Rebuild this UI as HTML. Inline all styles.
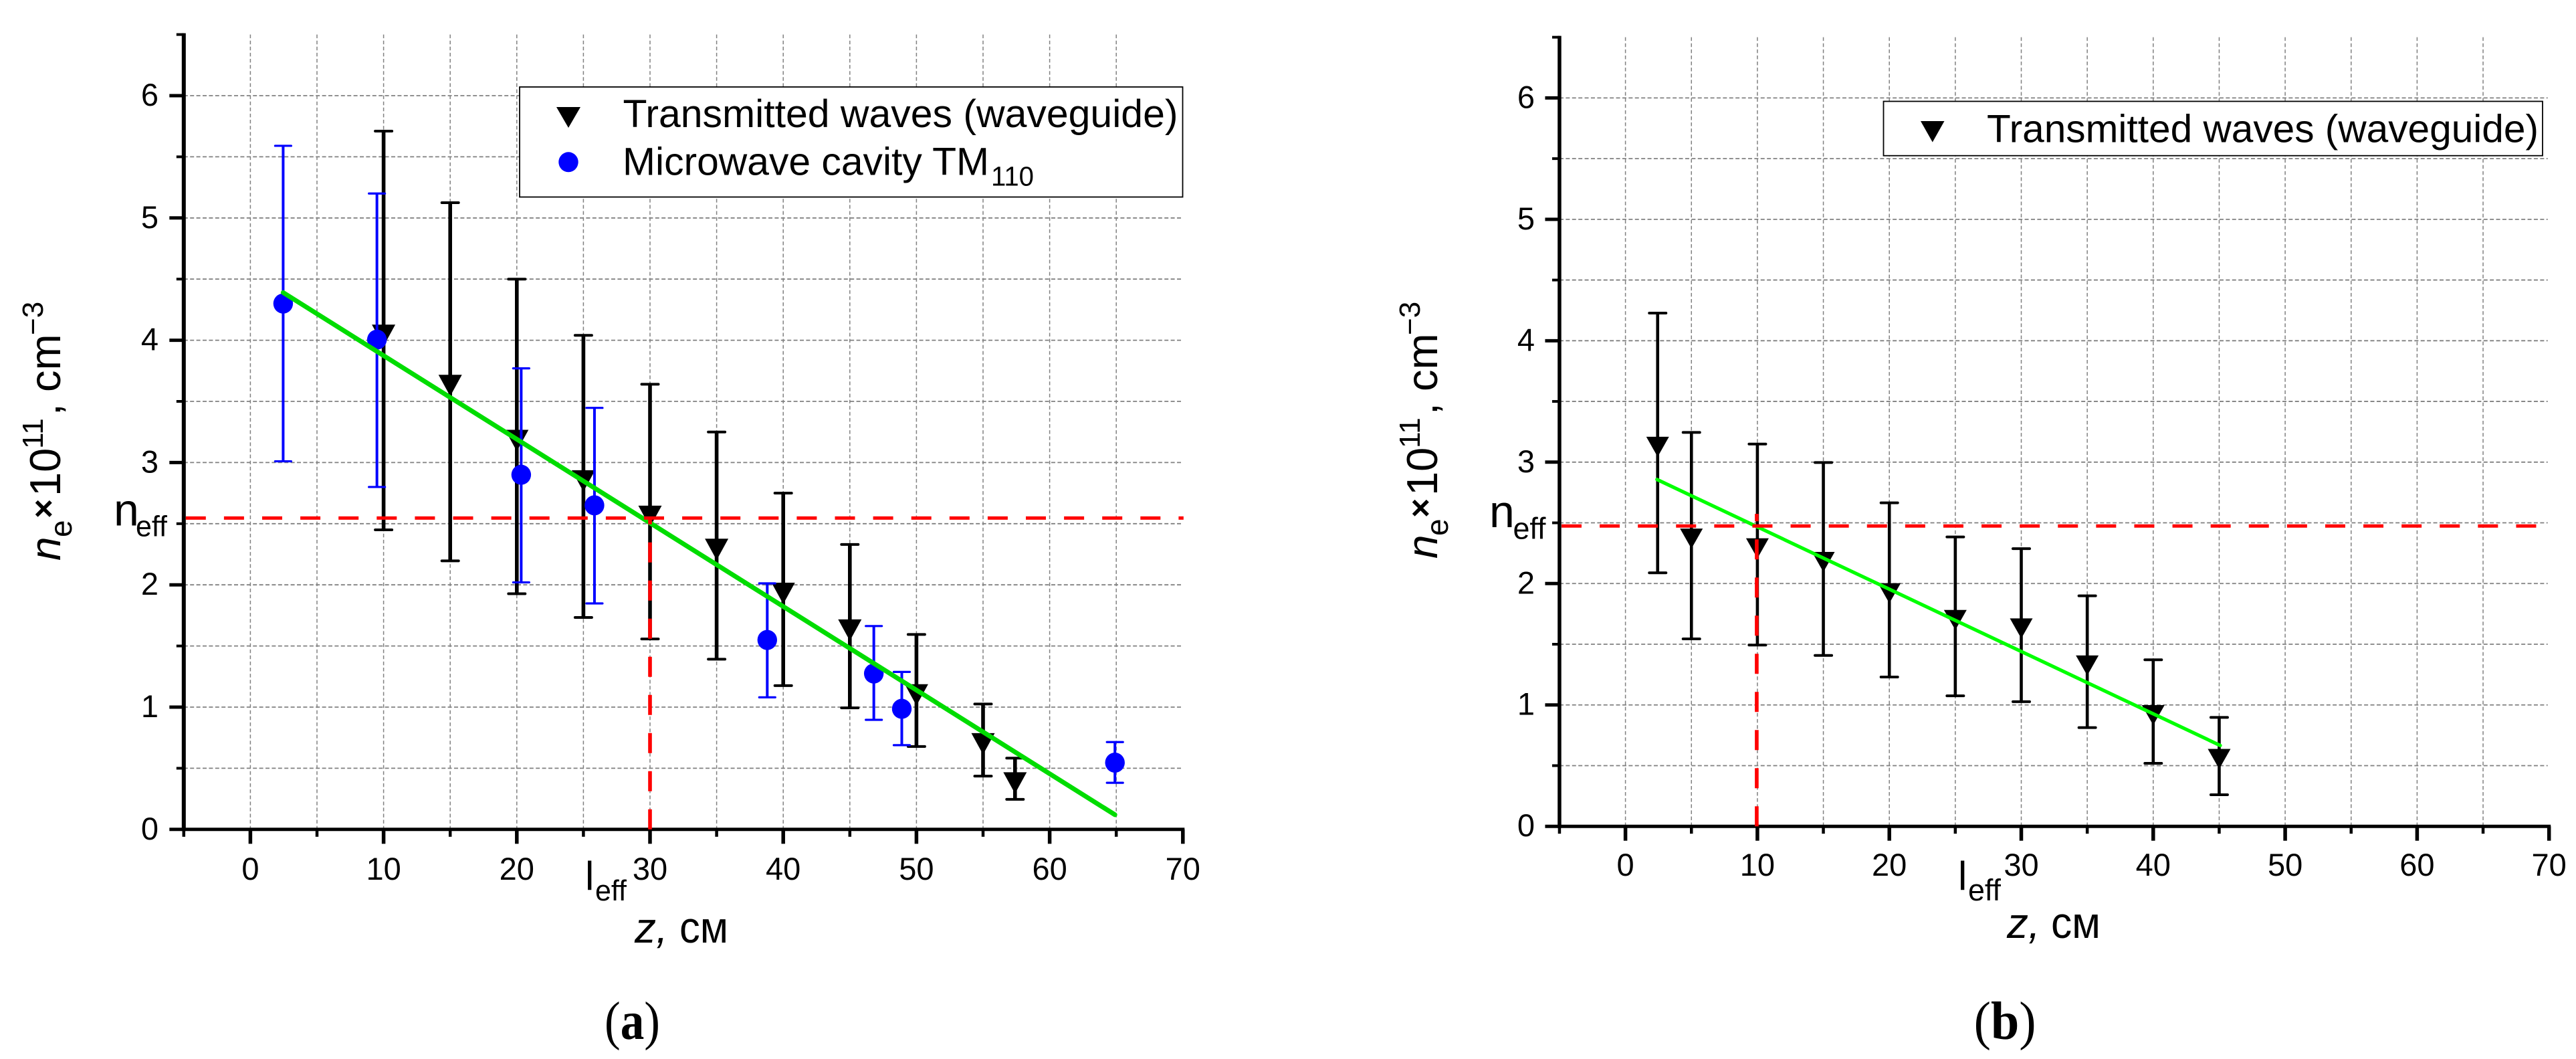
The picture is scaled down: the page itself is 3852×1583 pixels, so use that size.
<!DOCTYPE html>
<html lang="en">
<head>
<meta charset="utf-8">
<title>Electron density along z</title>
<style>
html,body{margin:0;padding:0;background:#fff;width:3852px;height:1583px;overflow:hidden}
svg{display:block}
text{font-family:"Liberation Sans",sans-serif;fill:#000}
.serif{font-family:"Liberation Serif",serif}
</style>
</head>
<body>
<svg id="figure" xmlns="http://www.w3.org/2000/svg" width="3852" height="1583" viewBox="0 0 3852 1583">
  <rect x="0" y="0" width="3852" height="1583" fill="#fff"/>
  <g id="chart-a"></g>
  <g id="chart-b"></g>

  <g id="overlay-a">
    <rect x="777" y="130" width="991.5" height="164.5" fill="#fff" stroke="#000" stroke-width="1.8"/>
    <polygon points="832,160 868,160 850,191" fill="#000"/>
    <ellipse cx="850" cy="242.3" rx="14.7" ry="15" fill="#0000ff"/>
    <text x="931.5" y="190" font-size="58" textLength="830" lengthAdjust="spacingAndGlyphs">Transmitted waves (waveguide)</text>
    <text x="931" y="261.7" font-size="58" textLength="548" lengthAdjust="spacingAndGlyphs">Microwave cavity TM</text>
    <text x="1482" y="277.5" font-size="41" textLength="64" lengthAdjust="spacingAndGlyphs">110</text>

    <text x="170" y="785.7" font-size="68">n</text>
    <text x="203" y="801.5" font-size="44" textLength="47" lengthAdjust="spacingAndGlyphs">eff</text>
    <text x="875" y="1330" font-size="60">l</text>
    <text x="890" y="1345.8" font-size="44" textLength="47" lengthAdjust="spacingAndGlyphs">eff</text>
    <text x="949" y="1408.8" font-size="64" font-style="italic">z,</text>
    <text x="1016" y="1408.8" font-size="66" textLength="73" lengthAdjust="spacingAndGlyphs">см</text>
    <text x="904" y="1553" font-size="80" class="serif" textLength="83" lengthAdjust="spacingAndGlyphs">(<tspan font-weight="bold">a</tspan>)</text>

    <g>
      <text transform="translate(90,838) rotate(-90)" font-size="64" font-style="italic">n</text>
      <text transform="translate(107,803) rotate(-90)" font-size="46">e</text>
      <text transform="translate(82,775) rotate(-90)" font-size="50" font-weight="bold">×</text>
      <text transform="translate(90,742) rotate(-90)" font-size="65">10</text>
      <text transform="translate(64,671) rotate(-90)" font-size="44">11</text>
      <text transform="translate(90,621) rotate(-90)" font-size="64">,</text>
      <text transform="translate(90,586) rotate(-90)" font-size="65">cm</text>
      <text transform="translate(64,501) rotate(-90)" font-size="44">−3</text>
    </g>
  </g>

  <g id="overlay-b">
    <rect x="2816.5" y="151.5" width="985.5" height="81.2" fill="#fff" stroke="#000" stroke-width="1.8"/>
    <polygon points="2872,181 2907.5,181 2889.8,212.5" fill="#000"/>
    <text x="2971" y="212.5" font-size="58" textLength="825" lengthAdjust="spacingAndGlyphs">Transmitted waves (waveguide)</text>

    <text x="2227" y="788" font-size="68">n</text>
    <text x="2262.5" y="805.6" font-size="45" textLength="49" lengthAdjust="spacingAndGlyphs">eff</text>
    <text x="2928" y="1330" font-size="60">l</text>
    <text x="2943" y="1345.8" font-size="45" textLength="49" lengthAdjust="spacingAndGlyphs">eff</text>
    <text x="3001" y="1402" font-size="64" font-style="italic">z,</text>
    <text x="3067" y="1402" font-size="66" textLength="74" lengthAdjust="spacingAndGlyphs">см</text>
    <text x="2951.6" y="1553" font-size="80" class="serif" textLength="93" lengthAdjust="spacingAndGlyphs">(<tspan font-weight="bold">b</tspan>)</text>

    <g transform="translate(2059,-1)">
      <text transform="translate(90,836) rotate(-90)" font-size="64" font-style="italic">n</text>
      <text transform="translate(106,802) rotate(-90)" font-size="46">e</text>
      <text transform="translate(82,775) rotate(-90)" font-size="50" font-weight="bold">×</text>
      <text transform="translate(90,742) rotate(-90)" font-size="65">10</text>
      <text transform="translate(64,671) rotate(-90)" font-size="44">11</text>
      <text transform="translate(90,621) rotate(-90)" font-size="64">,</text>
      <text transform="translate(90,586) rotate(-90)" font-size="65">cm</text>
      <text transform="translate(64,502) rotate(-90)" font-size="44">−3</text>
    </g>
  </g>
</svg>

<script>
// Shared axis definitions
const xTickLabels = [0, 10, 20, 30, 40, 50, 60, 70];
const xMinorTicks = [-5, 5, 15, 25, 35, 45, 55, 65];
const yTickLabels = [0, 1, 2, 3, 4, 5, 6];
const yMinorTicks = [0.5, 1.5, 2.5, 3.5, 4.5, 5.5, 6.5];
const xGridValues = [0, 5, 10, 15, 20, 25, 30, 35, 40, 45, 50, 55, 60, 65];
const yGridValues = [0.5, 1, 1.5, 2, 2.5, 3, 3.5, 4, 4.5, 5, 5.5, 6];

// Panel (a): transmitted waves
const aWaveZ  = [10, 15, 20, 25, 30, 35, 40, 45, 50, 55, 57.4];
const aWaveN  = [4.04, 3.63, 3.18, 2.85, 2.56, 2.29, 1.93, 1.63, 1.10, 0.70, 0.38];
const aWaveHi = [5.71, 5.125, 4.50, 4.04, 3.64, 3.25, 2.75, 2.33, 1.594, 1.025, 0.583];
const aWaveLo = [2.45, 2.196, 1.927, 1.733, 1.557, 1.392, 1.176, 0.994, 0.678, 0.436, 0.246];
// Panel (a): microwave cavity
const aCavityZ  = [2.46, 9.5, 20.33, 25.83, 38.8, 46.8, 48.9, 64.9];
const aCavityN  = [4.30, 4.005, 2.90, 2.65, 1.549, 1.275, 0.986, 0.546];
const aCavityHi = [5.59, 5.20, 3.77, 3.447, 2.012, 1.663, 1.288, 0.714];
const aCavityLo = [3.01, 2.80, 2.02, 1.848, 1.08, 0.896, 0.689, 0.381];
// Panel (a): fit and effective markers
const aFitZ = [2.46, 64.9];
const aFitN = [4.39, 0.12];
const aNeff = [2.546];
const aLeff = [30];

// Panel (b): transmitted waves
const bWaveZ  = [2.44, 5, 10, 15, 20, 25, 30, 35, 40, 45];
const bWaveN  = [3.126, 2.37, 2.29, 2.178, 1.92, 1.70, 1.63, 1.325, 0.916, 0.555];
const bWaveHi = [4.228, 3.245, 3.149, 2.997, 2.665, 2.384, 2.287, 1.899, 1.372, 0.897];
const bWaveLo = [2.088, 1.544, 1.493, 1.408, 1.23, 1.075, 1.027, 0.813, 0.519, 0.26];
// Panel (b): fit and effective markers
const bFitZ = [2.39, 45.08];
const bFitN = [2.857, 0.666];
const bNeff = [2.474];
const bLeff = [9.95];

const SVGNS = 'http://www.w3.org/2000/svg';

function make(parent, tag, attrs, content) {
  const node = document.createElementNS(SVGNS, tag);
  for (const key in attrs) node.setAttribute(key, attrs[key]);
  if (content !== undefined) node.textContent = content;
  parent.appendChild(node);
  return node;
}

function drawAxes(root, sx, sy, tag, labelBaseX, xBaseY, axisW) {
  const xMin = -5, xMax = 70, yTop = 6.5;
  const gridEndX = sx(xMax) - 2;

  for (const v of xGridValues) {
    const gl = make(root, 'line', {x1: sx(v), x2: sx(v), y1: sy(yTop), y2: sy(0), stroke: '#808080', 'stroke-width': 1.5, 'stroke-dasharray': '5.5 3.6'});
    
    
  }
  for (const v of yGridValues) {
    const gl = make(root, 'line', {x1: sx(xMin), x2: gridEndX, y1: sy(v), y2: sy(v), stroke: '#808080', 'stroke-width': 1.8, 'stroke-dasharray': '6 3.4'});
    
    
  }

  const yAxis = make(root, 'line', {x1: sx(xMin), x2: sx(xMin), y1: sy(yTop) - 2, y2: sy(0) + 2.5, stroke: '#000', 'stroke-width': axisW});
  
  
  const xAxis = make(root, 'line', {x1: sx(xMin) - 2.5, x2: sx(xMax) + 2.5, y1: sy(0), y2: sy(0), stroke: '#000', 'stroke-width': 5});
  
  

  for (const v of xTickLabels) {
    const t = make(root, 'line', {x1: sx(v), x2: sx(v), y1: sy(0), y2: sy(0) + 21.5, stroke: '#000', 'stroke-width': 5.5});
    
    
    const lab = make(root, 'text', {x: sx(v), y: xBaseY, 'text-anchor': 'middle', 'font-size': 47}, String(v));
    
    
  }
  for (const v of xMinorTicks) {
    const t = make(root, 'line', {x1: sx(v), x2: sx(v), y1: sy(0), y2: sy(0) + 11, stroke: '#000', 'stroke-width': 4.5});
    
    
  }
  for (const v of yTickLabels) {
    const t = make(root, 'line', {x1: sx(xMin) - 21.5, x2: sx(xMin), y1: sy(v), y2: sy(v), stroke: '#000', 'stroke-width': 5});
    
    
    const lab = make(root, 'text', {x: labelBaseX, y: sy(v) + 15, 'text-anchor': 'end', 'font-size': 47}, String(v));
    
    
  }
  for (const v of yMinorTicks) {
    const t = make(root, 'line', {x1: sx(xMin) - 11, x2: sx(xMin), y1: sy(v), y2: sy(v), stroke: '#000', 'stroke-width': 4});
    
    
  }
}

function drawErrorBar(root, x, yHi, yLo, color, barW, capHalf, capW, name) {
  const bar = make(root, 'line', {x1: x, x2: x, y1: yHi, y2: yLo, stroke: color, 'stroke-width': barW});
  
  
  for (const y of [yHi, yLo]) {
    const cap = make(root, 'line', {x1: x - capHalf, x2: x + capHalf, y1: y, y2: y, stroke: color, 'stroke-width': capW, 'stroke-linecap': 'round'});
    
    
  }
}

function drawWaves(root, sx, sy, zs, ns, his, los, tw, th, barW, tag) {
  zs.forEach((z, i) => {
    const x = sx(z);
    drawErrorBar(root, x, sy(his[i]), sy(los[i]), '#000', barW, 12.5, 4, 'transmitted-' + tag);
  });
  zs.forEach((z, i) => {
    const x = sx(z), y = sy(ns[i]);
    const tri = make(root, 'polygon', {points: (x - tw / 2) + ',' + (y - th / 2) + ' ' + (x + tw / 2) + ',' + (y - th / 2) + ' ' + x + ',' + (y + th / 2), fill: '#000'});
    
    
  });
}

function drawFit(root, sx, sy, zs, ns, color, width, tag) {
  const fit = make(root, 'line', {x1: sx(zs[0]), y1: sy(ns[0]), x2: sx(zs[1]), y2: sy(ns[1]), stroke: color, 'stroke-width': width, 'stroke-linecap': 'round'});
  
  
}

function drawEffective(root, sx, sy, neff, leff, top, tag) {
  const h = make(root, 'line', {x1: sx(-5) + 3, x2: sx(70) + 1, y1: sy(neff), y2: sy(neff), stroke: '#ff0000', 'stroke-width': 5, 'stroke-dasharray': '30 27.1'});
  
  
  const v = make(root, 'line', {x1: sx(leff), x2: sx(leff), y1: sy(0), y2: sy(top), stroke: '#ff0000', 'stroke-width': 5.6, 'stroke-dasharray': '30 27'});
  
  
}

// ---- Panel (a) ----
const ax = z => 374.4 + 19.92 * z;
const ay = n => 1239.8 - 182.8 * n;
const gA = document.getElementById('chart-a');
drawAxes(gA, ax, ay, 'a', 237, 1315, 6);
drawWaves(gA, ax, ay, aWaveZ, aWaveN, aWaveHi, aWaveLo, 35, 32, 5.6, 'a');
aCavityZ.forEach((z, i) => {
  drawErrorBar(gA, ax(z), ay(aCavityHi[i]), ay(aCavityLo[i]), '#0000ff', 4, 12, 3.2, 'cavity-a');
});
aCavityZ.forEach((z, i) => {
  const c = make(gA, 'ellipse', {cx: ax(z), cy: ay(aCavityN[i]), rx: 14.7, ry: 15, fill: '#0000ff'});
  
  
});
drawFit(gA, ax, ay, aFitZ, aFitN, '#00dc00', 7, 'a');
drawEffective(gA, ax, ay, aNeff[0], aLeff[0], aNeff[0], 'a');

// ---- Panel (b) ----
const bx = z => 2430.6 + 19.73 * z;
const by = n => 1235.2 - 181.47 * n;
const gB = document.getElementById('chart-b');
drawAxes(gB, bx, by, 'b', 2295, 1309, 5.5);
drawWaves(gB, bx, by, bWaveZ, bWaveN, bWaveHi, bWaveLo, 34, 30, 4.6, 'b');
drawFit(gB, bx, by, bFitZ, bFitN, '#00ff00', 5.2, 'b');
drawEffective(gB, bx, by, bNeff[0], bLeff[0], bNeff[0] + 0.1, 'b');
</script>
</body>
</html>
